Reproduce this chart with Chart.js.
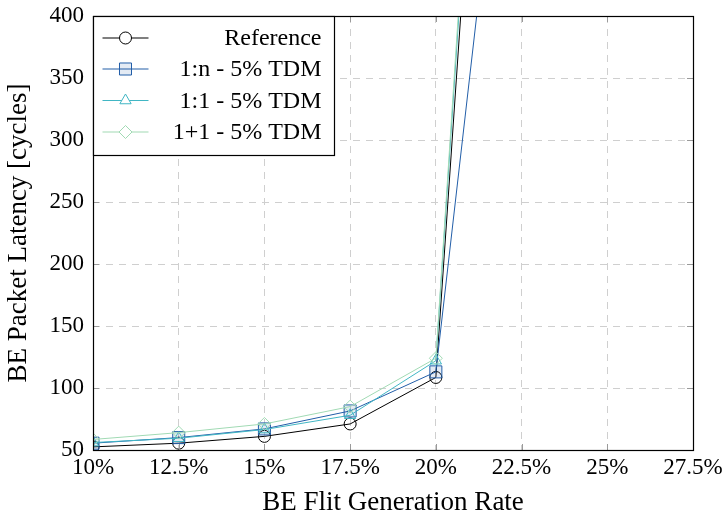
<!DOCTYPE html>
<html>
<head>
<meta charset="utf-8">
<script src="https://cdn.jsdelivr.net/npm/chart.js@4.4.1/dist/chart.umd.min.js"></script>
<style>
html,body{margin:0;padding:0;background:#fff;}
#wrap{width:726px;height:517px;position:relative;}
</style>
</head>
<body>
<div id="wrap"><canvas id="c" width="726" height="517"></canvas></div>
<script>
// Data
const rates = [10, 12.5, 15, 17.5, 20, 22.5];
const seriesNames = ['Reference', '1:n - 5% TDM', '1:1 - 5% TDM', '1+1 - 5% TDM'];
const reference = [52.5, 55.5, 61, 71, 108.5, 1115];
const oneToN = [55.5, 60, 67, 81.5, 113, 716];
const oneToOne = [56, 59.5, 66.5, 78, 122, 1160];
const onePlusOne = [58.5, 64, 71, 85, 124, 1183];
const xTicks = [10, 12.5, 15, 17.5, 20, 22.5, 25, 27.5];
const yTicks = [50, 100, 150, 200, 250, 300, 350, 400];

const FONT = "'Liberation Serif', 'Times New Roman', serif";
const colors = ['#000000', '#225ea8', '#41b6c4', '#a1dab4'];
const fills = ['rgba(0,0,0,0)', 'rgba(34,94,168,0.12)', 'rgba(0,0,0,0)', 'rgba(0,0,0,0)'];
const styles = ['circle', 'rect', 'triangle', 'rectRot'];
const radii = [6, 8.5, 6.5, 6.5];
const values = [reference, oneToN, oneToOne, onePlusOne];

const datasets = values.map((vals, i) => ({
  label: seriesNames[i],
  data: rates.map((r, j) => ({x: r, y: vals[j]})),
  borderColor: colors[i],
  backgroundColor: 'rgba(0,0,0,0)',
  borderWidth: 1,
  pointStyle: styles[i],
  pointRadius: radii[i],
  pointBorderWidth: 1,
  pointBackgroundColor: fills[i],
  pointBorderColor: colors[i],
  tension: 0,
  order: 4 - i
}));

const framePlugin = {
  id: 'frame',
  afterDraw(chart) {
    const ctx = chart.ctx;
    const a = chart.chartArea;
    const xs = chart.scales.x, ys = chart.scales.y;
    ctx.save();
    // inner ticks
    ctx.strokeStyle = '#9a9a9a';
    ctx.lineWidth = 1;
    ctx.beginPath();
    xTicks.forEach(t => {
      const px = Math.round(xs.getPixelForValue(t)) + 0.5;
      ctx.moveTo(px, a.bottom); ctx.lineTo(px, a.bottom - 6);
      ctx.moveTo(px, a.top); ctx.lineTo(px, a.top + 6);
    });
    yTicks.forEach(t => {
      const py = Math.round(ys.getPixelForValue(t)) + 0.5;
      ctx.moveTo(a.left, py); ctx.lineTo(a.left + 6, py);
      ctx.moveTo(a.right, py); ctx.lineTo(a.right - 6, py);
    });
    ctx.stroke();
    // frame
    ctx.strokeStyle = '#000';
    ctx.lineWidth = 1.2;
    ctx.strokeRect(Math.round(a.left) + 0.5, Math.round(a.top) + 0.5, Math.round(a.right - a.left), Math.round(a.bottom - a.top));

    // legend
    const lx = Math.round(a.left) + 0.5, ly = Math.round(a.top) + 0.5;
    const lw = 241, lh = 139;
    ctx.fillStyle = '#fff';
    ctx.fillRect(lx, ly, lw, lh);
    ctx.strokeStyle = '#000';
    ctx.lineWidth = 1.2;
    ctx.strokeRect(lx, ly, lw, lh);
    const rowsY = [38, 69, 100.5, 132];
    seriesNames.forEach((name, i) => {
      const y = rowsY[i];
      ctx.strokeStyle = colors[i];
      ctx.lineWidth = 1.2;
      ctx.beginPath();
      ctx.moveTo(lx + 9, y); ctx.lineTo(lx + 55, y);
      ctx.stroke();
      ctx.fillStyle = fills[i] === 'rgba(0,0,0,0)' ? '#ffffff' : fills[i];
      ctx.strokeStyle = colors[i];
      ctx.lineWidth = 1;
      if (i !== 1) {
        // white under hollow marker except where the line passes
      }
      Chart.helpers.drawPoint(ctx, {
        pointStyle: styles[i], radius: radii[i], borderWidth: 1, rotation: 0
      }, lx + 32, y);
      ctx.font = '24px ' + FONT;
      ctx.textAlign = 'right';
      ctx.textBaseline = 'middle';
      ctx.fillStyle = '#000';
      ctx.fillText(name, lx + 228, y + 1);
    });
    ctx.restore();
  }
};

new Chart(document.getElementById('c'), {
  type: 'line',
  data: { datasets },
  plugins: [framePlugin],
  options: {
    responsive: false,
    animation: false,
    devicePixelRatio: 1,
    layout: { padding: { left: 0, right: 33, top: 16, bottom: 0 } },
    plugins: { legend: { display: false }, tooltip: { enabled: false } },
    scales: {
      x: {
        type: 'linear',
        min: 10, max: 27.5,
        afterBuildTicks(scale) { scale.ticks = xTicks.map(v => ({value: v})); },
        afterFit(scale) { scale.height = 67; scale.paddingLeft = 0; scale.paddingRight = 0; },
        ticks: {
          color: '#000',
          font: { family: FONT, size: 23 },
          padding: 4,
          maxRotation: 0,
          callback: v => v + '%'
        },
        grid: { color: '#cfcfcf', lineWidth: 1, drawTicks: false, tickLength: 0 },
        border: { display: false, dash: [7, 6] },
        title: {
          display: true,
          text: 'BE Flit Generation Rate',
          color: '#000',
          font: { family: FONT, size: 27, lineHeight: 1 },
          padding: { top: 0, bottom: 1 }
        }
      },
      y: {
        min: 50, max: 400,
        afterBuildTicks(scale) { scale.ticks = yTicks.map(v => ({value: v})); },
        afterFit(scale) { scale.width = 93; scale.paddingTop = 0; scale.paddingBottom = 0; },
        ticks: {
          color: '#000',
          font: { family: FONT, size: 23 },
          padding: 9
        },
        grid: { color: '#cfcfcf', lineWidth: 1, drawTicks: false, tickLength: 0 },
        border: { display: false, dash: [7, 6] },
        title: {
          display: true,
          text: 'BE Packet Latency [cycles]',
          color: '#000',
          font: { family: FONT, size: 27, lineHeight: 1 },
          padding: { top: 5, bottom: 0 }
        }
      }
    }
  }
});
</script>
</body>
</html>
